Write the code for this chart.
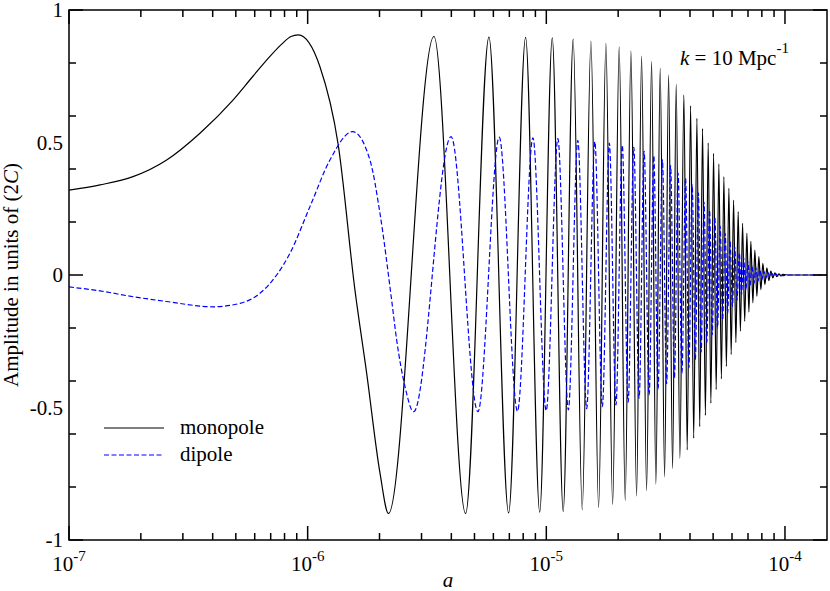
<!DOCTYPE html>
<html>
<head>
<meta charset="utf-8">
<script src="https://cdn.jsdelivr.net/npm/d3@7"></script>
<style>
  body { margin: 0; background: #fff; }
</style>
</head>
<body>
<svg></svg>
<script>
const width = 830
const height = 591
const margin = { top: 10, right: 3, bottom: 51, left: 69 }

// scale factor a, in units of 1e-6
const monopoleA = [
  0.1, 0.1349, 0.1854, 0.2566, 0.3538, 0.4865, 0.5899, 0.6951, 0.7805, 0.8511,
  0.9134, 1.1259, 1.3435, 1.5783, 1.7667, 2.0089,
  2.181, 3.382, 4.591, 5.748, 6.952, 8.189, 9.384, 10.59, 11.77, 12.96,
  14.14, 15.38, 16.56, 17.77, 18.96, 20.2, 21.41, 22.62, 23.89, 25.07,
  26.31, 27.61, 28.78, 30.0, 31.3, 32.53, 33.81, 35.01, 36.28, 37.71,
  38.93, 40.23, 41.45, 42.76, 43.93, 45.15, 46.4, 47.67, 48.92, 50.21,
  51.49, 52.85, 54.14, 55.46, 56.81, 58.21, 59.51, 60.91, 62.27, 63.67,
  65.04, 66.43, 67.79, 69.24, 70.59, 71.96, 73.36, 74.79, 76.25, 77.73,
  79.25, 80.79, 82.37, 83.97, 85.6, 87.27, 88.97, 90.71, 92.48, 94.28,
  96.12, 98.0, 104, 150,
]
const monopoleAmp = [
  0.32, 0.34, 0.371, 0.434, 0.535, 0.66, 0.75, 0.825, 0.872, 0.9,
  0.906, 0.786, 0.49, -0.057, -0.37, -0.747,
  -0.9, 0.9, -0.9, 0.898, -0.898, 0.897, -0.895, 0.895, -0.892, 0.89,
  -0.886, 0.883, -0.878, 0.874, -0.866, 0.861, -0.851, 0.846, -0.834, 0.826,
  -0.814, 0.806, -0.789, 0.781, -0.762, 0.755, -0.731, 0.72, -0.692, 0.68,
  -0.66, 0.638, -0.616, 0.591, -0.572, 0.553, -0.53, 0.499, -0.484, 0.459,
  -0.432, 0.419, -0.392, 0.371, -0.345, 0.327, -0.3, 0.283, -0.255, 0.239,
  -0.212, 0.195, -0.175, 0.157, -0.14, 0.127, -0.105, 0.094, -0.08, 0.069,
  -0.055, 0.044, -0.036, 0.027, -0.021, 0.015, -0.011, 0.008, -0.006, 0.004,
  -0.003, 0.002, 0, 0,
]

const dipoleA = [
  0.1, 0.1349, 0.1859, 0.2566, 0.4023, 0.5205, 0.6311, 0.7416, 0.8431, 1.0225,
  1.24, 1.5434, 1.8239, 2.0089, 2.248, 2.36, 2.5565,
  2.78, 3.99, 5.17, 6.35, 7.57, 8.79, 9.99, 11.18, 12.37, 13.55,
  14.76, 15.97, 17.17, 18.37, 19.58, 20.81, 22.02, 23.26, 24.48, 25.69,
  26.96, 28.2, 29.39, 30.65, 31.92, 33.17, 34.41, 35.65, 37.0, 38.32,
  39.58, 40.84, 42.11, 43.35, 44.54, 45.78, 47.04, 48.3, 49.57, 50.85,
  52.17, 53.5, 54.8, 56.14, 57.51, 58.86, 60.21, 61.59, 62.97, 64.36,
  65.74, 67.11, 68.52, 69.92, 71.28, 72.66, 74.08, 75.52, 76.99, 78.49,
  80.02, 81.58, 83.17, 84.79, 86.44, 88.12, 89.84, 91.6, 93.38, 95.2,
  97.06, 104, 150,
]
const dipoleAmp = [
  -0.045, -0.06, -0.082, -0.1, -0.12, -0.107, -0.069, 0, 0.082, 0.258,
  0.434, 0.541, 0.434, 0.233, -0.094, -0.245, -0.42,
  -0.516, 0.522, -0.516, 0.52, -0.514, 0.518, -0.512, 0.515, -0.509, 0.508,
  -0.504, 0.503, -0.497, 0.498, -0.49, 0.49, -0.48, 0.482, -0.465, 0.467,
  -0.452, 0.45, -0.43, 0.435, -0.41, 0.413, -0.39, 0.385, -0.37, 0.365,
  -0.35, 0.34, -0.32, 0.31, -0.29, 0.275, -0.255, 0.245, -0.225, 0.215,
  -0.2, 0.185, -0.17, 0.157, -0.145, 0.13, -0.118, 0.105, -0.094, 0.084,
  -0.074, 0.066, -0.058, 0.05, -0.043, 0.038, -0.032, 0.028, -0.024, 0.02,
  -0.017, 0.014, -0.012, 0.01, -0.008, 0.006, -0.005, 0.004, -0.003, 0.002,
  -0.002, 0, 0,
]

const xTickExponents = [-7, -6, -5, -4]
const yTicks = [-1, -0.5, 0, 0.5, 1]
const yTickLabels = ['-1', '-0.5', '0', '0.5', '1']
const seriesNames = ['monopole', 'dipole']
const seriesColors = ['#000', '#0000ff']

const fontSize = 21
const supSize = 15

const svg = d3
  .select('svg')
  .attr('width', width)
  .attr('height', height)
  .attr('font-family', "'Liberation Serif', 'Times New Roman', Times, serif")
  .style('display', 'block')

const x = d3
  .scaleLog()
  .domain([1e-7, 1.5e-4])
  .range([margin.left, width - margin.right])
const y = d3
  .scaleLinear()
  .domain([-1, 1])
  .range([height - margin.bottom, margin.top])

const plotLeft = x.range()[0]
const plotRight = x.range()[1]
const plotTop = y.range()[1]
const plotBottom = y.range()[0]

const monopole = monopoleA.map((a, i) => ({ a: a * 1e-6, v: monopoleAmp[i] }))
const dipole = dipoleA.map((a, i) => ({ a: a * 1e-6, v: dipoleAmp[i] }))

const line = d3
  .line()
  .x((d) => x(d.a))
  .y((d) => y(d.v))
  .curve(d3.curveMonotoneX)

svg
  .append('path')
  .datum(monopole)
  .attr('d', line)
  .attr('fill', 'none')
  .attr('stroke', seriesColors[0])
  .attr('stroke-width', 1.2)

svg
  .append('path')
  .datum(dipole)
  .attr('d', line)
  .attr('fill', 'none')
  .attr('stroke', seriesColors[1])
  .attr('stroke-width', 1.2)
  .attr('stroke-dasharray', '5,2.5')

// frame
svg
  .append('rect')
  .attr('x', plotLeft)
  .attr('y', plotTop)
  .attr('width', plotRight - plotLeft)
  .attr('height', plotBottom - plotTop)
  .attr('fill', 'none')
  .attr('stroke', '#000')
  .attr('stroke-width', 1.5)

// ticks point inward on all four sides
const isMajor = (t) => Math.abs(Math.log10(t) - Math.round(Math.log10(t))) < 1e-6
const ticks = svg.append('g').attr('stroke', '#000').attr('stroke-width', 1.5)
x.ticks().forEach((t) => {
  const len = isMajor(t) ? 14 : 7
  ticks.append('line').attr('x1', x(t)).attr('x2', x(t)).attr('y1', plotBottom).attr('y2', plotBottom - len)
  ticks.append('line').attr('x1', x(t)).attr('x2', x(t)).attr('y1', plotTop).attr('y2', plotTop + len)
})
y.ticks(8).forEach((t) => {
  const len = yTicks.includes(t) ? 14 : 7
  ticks.append('line').attr('x1', plotLeft).attr('x2', plotLeft + len).attr('y1', y(t)).attr('y2', y(t))
  ticks.append('line').attr('x1', plotRight).attr('x2', plotRight - len).attr('y1', y(t)).attr('y2', y(t))
})

// tick labels
yTicks.forEach((t, i) => {
  svg
    .append('text')
    .attr('x', plotLeft - 6)
    .attr('y', y(t))
    .attr('dy', '0.35em')
    .attr('text-anchor', 'end')
    .attr('font-size', fontSize)
    .text(yTickLabels[i])
})
xTickExponents.forEach((e) => {
  const label = svg
    .append('text')
    .attr('x', x(Math.pow(10, e)))
    .attr('y', 571)
    .attr('text-anchor', 'middle')
    .attr('font-size', fontSize)
  label.append('tspan').text('10')
  label.append('tspan').attr('dy', -10).attr('font-size', supSize).text(e)
})

// axis titles
svg
  .append('text')
  .attr('x', (plotLeft + plotRight) / 2)
  .attr('y', 587)
  .attr('text-anchor', 'middle')
  .attr('font-size', fontSize)
  .attr('font-style', 'italic')
  .text('a')

const yTitle = svg
  .append('text')
  .attr('transform', `translate(18,${y(0)}) rotate(-90)`)
  .attr('text-anchor', 'middle')
  .attr('font-size', fontSize)
yTitle.append('tspan').text('Amplitude in units of (2')
yTitle.append('tspan').attr('font-style', 'italic').text('C')
yTitle.append('tspan').text(')')

// annotation
const note = svg.append('text').attr('x', 680).attr('y', 65).attr('font-size', fontSize)
note.append('tspan').attr('font-style', 'italic').text('k')
note.append('tspan').text(' = 10 Mpc')
note.append('tspan').attr('dy', -12).attr('font-size', supSize).text('-1')

// legend
seriesNames.forEach((name, i) => {
  const ly = 428 + i * 27
  svg
    .append('line')
    .attr('x1', 104)
    .attr('x2', 164)
    .attr('y1', ly)
    .attr('y2', ly)
    .attr('stroke', seriesColors[i])
    .attr('stroke-width', 1.2)
    .attr('stroke-dasharray', i === 1 ? '5,2.5' : null)
  svg
    .append('text')
    .attr('x', 180)
    .attr('y', ly + 6)
    .attr('font-size', fontSize)
    .text(name)
})
</script>
</body>
</html>
